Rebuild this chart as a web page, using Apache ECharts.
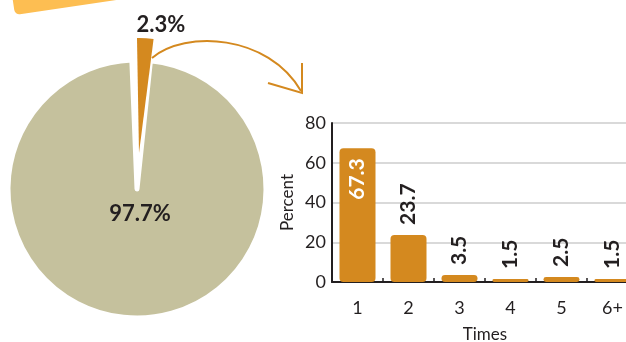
<!DOCTYPE html>
<html>
<head>
<meta charset="utf-8">
<script src="https://cdn.jsdelivr.net/npm/echarts@6/dist/echarts.min.js"></script>
<style>
  html, body { margin: 0; padding: 0; background: #fff; }
  #chart { width: 626px; height: 342px; }
</style>
</head>
<body>
<div id="chart"></div>
<script>
// Share of respondents, split into the small group and everyone else
const pieNames = ['Yes', 'No'];
const pieValues = [2.3, 97.7];

// Breakdown of the small group by number of times
const timesCategories = ['1', '2', '3', '4', '5', '6+'];
const timesValues = [67.3, 23.7, 3.5, 1.5, 2.5, 1.5];

const yTicks = [0, 20, 40, 60, 80];

const ORANGE = '#D4891F';
const KHAKI = '#C5C19D';
const TEXT = '#231F20';
const FONT = 'Lato, "Open Sans", sans-serif';

const chart = echarts.init(document.getElementById('chart'), null, { renderer: 'canvas' });

const pctLabel = (p) => p.value.toFixed(1) + '%';
const pieLabelStyle = {
  show: true,
  position: 'inside',
  formatter: pctLabel,
  fontFamily: FONT,
  fontWeight: 'bold',
  fontSize: 22,
  color: TEXT
};

// Big disc: the small slice is left as an empty notch
const baseData = pieValues.map((v, i) => ({
  name: pieNames[i],
  value: v,
  itemStyle: i === 0
    ? { color: 'rgba(0,0,0,0)', borderWidth: 0 }
    : { color: KHAKI, borderColor: '#fff', borderWidth: 5 },
  label: i === 0 ? { show: false } : pieLabelStyle
}));

// Pulled-out small slice drawn on its own
const sliceData = pieValues.map((v, i) => ({
  name: pieNames[i],
  value: v,
  itemStyle: { color: i === 0 ? ORANGE : 'rgba(0,0,0,0)', borderWidth: 0 },
  label: i === 0 ? pieLabelStyle : { show: false }
}));

chart.setOption({
  animation: false,
  graphic: [
    {
      // yellow banner corner in the top-left
      type: 'rect',
      x: 15,
      y: 15,
      rotation: 0.147,
      shape: { x: 0, y: -60, width: 130, height: 60, r: 5 },
      style: { fill: '#FDBE52' },
      z: 1
    },
    {
      // curved connector from the small slice to the bar chart
      type: 'bezierCurve',
      shape: { x1: 152, y1: 58, cpx1: 185, cpy1: 30, cpx2: 268, cpy2: 34, x2: 301, y2: 91 },
      style: { stroke: ORANGE, lineWidth: 2, fill: null },
      z: 10
    },
    {
      type: 'polyline',
      shape: { points: [[302, 63], [302, 93], [268, 83]] },
      style: { stroke: ORANGE, lineWidth: 2, fill: null },
      z: 10
    }
  ],
  grid: {
    left: 332, top: 123, width: 306, height: 159,
    containLabel: false,
    outerBoundsMode: 'none'
  },
  xAxis: {
    type: 'category',
    data: timesCategories,
    name: 'Times',
    nameLocation: 'middle',
    nameGap: 44,
    nameTextStyle: { fontFamily: FONT, fontSize: 17, color: TEXT },
    axisLine: { show: true, lineStyle: { color: TEXT, width: 2 } },
    axisTick: { show: true, inside: true, length: 4, lineStyle: { color: TEXT, width: 1.5 } },
    axisLabel: { fontFamily: FONT, fontSize: 18, color: TEXT, margin: 17 }
  },
  yAxis: {
    type: 'value',
    min: yTicks[0],
    max: yTicks[yTicks.length - 1],
    interval: yTicks[1] - yTicks[0],
    name: 'Percent',
    nameLocation: 'middle',
    nameGap: 36,
    nameTextStyle: { fontFamily: FONT, fontSize: 17, color: TEXT },
    axisLine: { show: true, lineStyle: { color: TEXT, width: 2 } },
    axisTick: { show: false },
    axisLabel: { fontFamily: FONT, fontSize: 18, color: TEXT, margin: 6 },
    splitLine: { show: true, lineStyle: { color: '#D9D9D9', width: 2 } }
  },
  series: [
    {
      type: 'pie',
      center: [137, 189],
      radius: [0, 129],
      startAngle: 92.3,
      clockwise: true,
      silent: true,
      avoidLabelOverlap: false,
      labelLine: { show: false },
      labelLayout: () => ({ x: 140, y: 214, align: 'center', verticalAlign: 'middle' }),
      emphasis: { disabled: true },
      data: baseData,
      z: 5
    },
    {
      type: 'pie',
      center: [139, 153],
      radius: [0, 115],
      startAngle: 91,
      clockwise: true,
      silent: true,
      avoidLabelOverlap: false,
      labelLine: { show: false },
      labelLayout: () => ({ x: 161, y: 25, align: 'center', verticalAlign: 'middle' }),
      emphasis: { disabled: true },
      data: sliceData,
      z: 6
    },
    {
      type: 'bar',
      data: timesValues.map((v, i) => ({
        value: v,
        label: i === 0
          ? { position: 'insideTop', distance: 10, align: 'right', color: '#fff' }
          : { position: 'top', distance: 10, align: 'left', color: TEXT }
      })),
      barWidth: 36,
      itemStyle: { color: ORANGE, borderRadius: 4 },
      label: {
        show: true,
        rotate: 90,
        verticalAlign: 'middle',
        fontFamily: FONT,
        fontWeight: 'bold',
        fontSize: 21,
        formatter: (p) => p.value.toFixed(1)
      },
      emphasis: { disabled: true }
    }
  ]
});
</script>
</body>
</html>
